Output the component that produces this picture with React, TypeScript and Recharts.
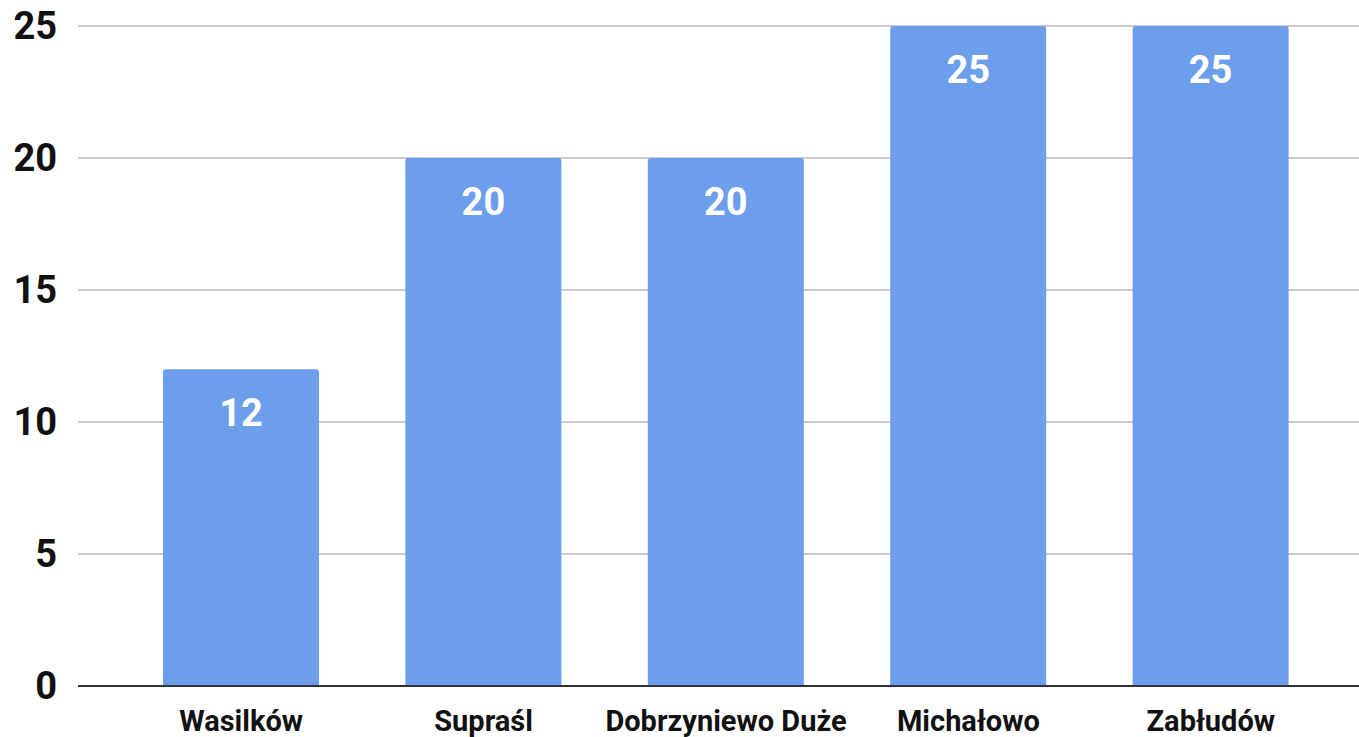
import { BarChart, Bar, XAxis, YAxis, CartesianGrid, LabelList } from 'recharts';

const gminy = ['Wasilków', 'Supraśl', 'Dobrzyniewo Duże', 'Michałowo', 'Zabłudów'];
const liczby = [12, 20, 20, 25, 25];
const yTicks = [0, 5, 10, 15, 20, 25];

const data = gminy.map((name, i) => ({ name, value: liczby[i] }));

const font = 'Roboto, "Noto Sans", sans-serif';

export default function App() {
  return (
    <div style={{ position: 'absolute', left: 0, top: 0, background: '#fff' }}>
      <BarChart
        width={1359}
        height={737}
        data={data}
        margin={{ top: 26, right: 0, left: 0, bottom: 0 }}
        style={{ fontFamily: font }}
      >
        <CartesianGrid vertical={false} stroke="#cccccc" strokeWidth={2} />
        <XAxis
          dataKey="name"
          height={51}
          padding={{ left: 42, right: 27 }}
          tickLine={false}
          tickSize={0}
          tickMargin={24}
          axisLine={{ stroke: '#333333', strokeWidth: 2 }}
          tick={{ fontSize: 29, fontWeight: 700, fill: '#111111', fontFamily: font }}
          interval={0}
        />
        <YAxis
          width={78}
          domain={[0, 25]}
          ticks={yTicks}
          axisLine={false}
          tickLine={false}
          tickSize={0}
          tickMargin={21}
          tick={{ fontSize: 38, fontWeight: 700, fill: '#111111', fontFamily: font }}
        />
        <Bar dataKey="value" fill="#6d9eeb" barSize={156} radius={[3, 3, 0, 0]} isAnimationActive={false}>
          <LabelList
            dataKey="value"
            position="insideTop"
            offset={30}
            fill="#ffffff"
            style={{ fontSize: 38, fontWeight: 700, fontFamily: font }}
          />
        </Bar>
      </BarChart>
    </div>
  );
}
